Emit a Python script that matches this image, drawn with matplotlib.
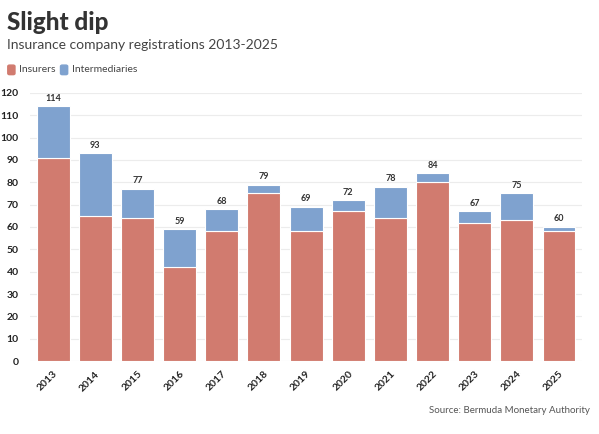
import numpy as np
import matplotlib.pyplot as plt
from matplotlib.patches import FancyBboxPatch

# ---------------------------------------------------------------------
# Data
# ---------------------------------------------------------------------

years = [str(y) for y in range(2013, 2026)]
insurers = [91, 65, 64, 42, 58, 75, 58, 67, 64, 80, 62, 63, 58]
totals = [114, 93, 77, 59, 68, 79, 69, 72, 78, 84, 67, 75, 60]
intermediaries = [t - i for t, i in zip(totals, insurers)]

red = "#d17b6f"
blue = "#7fa2cf"

plt.rcParams["font.family"] = ["Lato", "DejaVu Sans"]

fig = plt.figure(figsize=(5.99, 4.34), dpi=100)
ax = fig.add_axes([0.050, 0.168, 0.922, 0.618])

x = np.arange(len(years))
ax.bar(x, insurers, width=0.78, color=red, edgecolor="white", linewidth=0.8, zorder=2)
ax.bar(x, intermediaries, bottom=insurers, width=0.78, color=blue,
       edgecolor="white", linewidth=0.8, zorder=2)

for xi, t in zip(x, totals):
    ax.text(xi, t + 1.6, str(t), ha="center", va="bottom",
            fontsize=6.5, fontweight="bold", color="#333333")

ax.set_ylim(0, 120)
ax.set_xlim(-0.55, len(years) - 0.45)
ax.set_yticks(range(0, 121, 10))
ax.set_xticks(x)
ax.set_xticklabels(years, rotation=45, ha="right", rotation_mode="anchor")
ax.tick_params(axis="both", length=0, labelsize=7.5, colors="#222222")
ax.tick_params(axis="y", pad=8)
ax.tick_params(axis="x", pad=6)
for lab in ax.get_xticklabels() + ax.get_yticklabels():
    lab.set_fontweight("bold")
ax.grid(axis="y", color="#ececec", linewidth=0.8, zorder=0)
for s in ax.spines.values():
    s.set_visible(False)

# ---------------------------------------------------------------------
# Titles, legend, source
# ---------------------------------------------------------------------

fig.text(0.012, 0.948, "Slight dip", fontsize=17.5, fontweight="black",
         color="#333333", va="center")
fig.text(0.012, 0.896, "Insurance company registrations 2013-2025",
         fontsize=10, color="#444444", va="center")

for px, col, lab in [(0.013, red, "Insurers"), (0.101, blue, "Intermediaries")]:
    fig.patches.append(FancyBboxPatch((px, 0.828), 0.012, 0.022,
                                      boxstyle="round,pad=0,rounding_size=0.003",
                                      transform=fig.transFigure, color=col))
    fig.text(px + 0.019, 0.839, lab, fontsize=7.5, color="#444444", va="center")

fig.text(0.985, 0.053, "Source: Bermuda Monetary Authority", fontsize=7,
         color="#555555", ha="right", va="center")

fig.savefig("out.png", dpi=100)
